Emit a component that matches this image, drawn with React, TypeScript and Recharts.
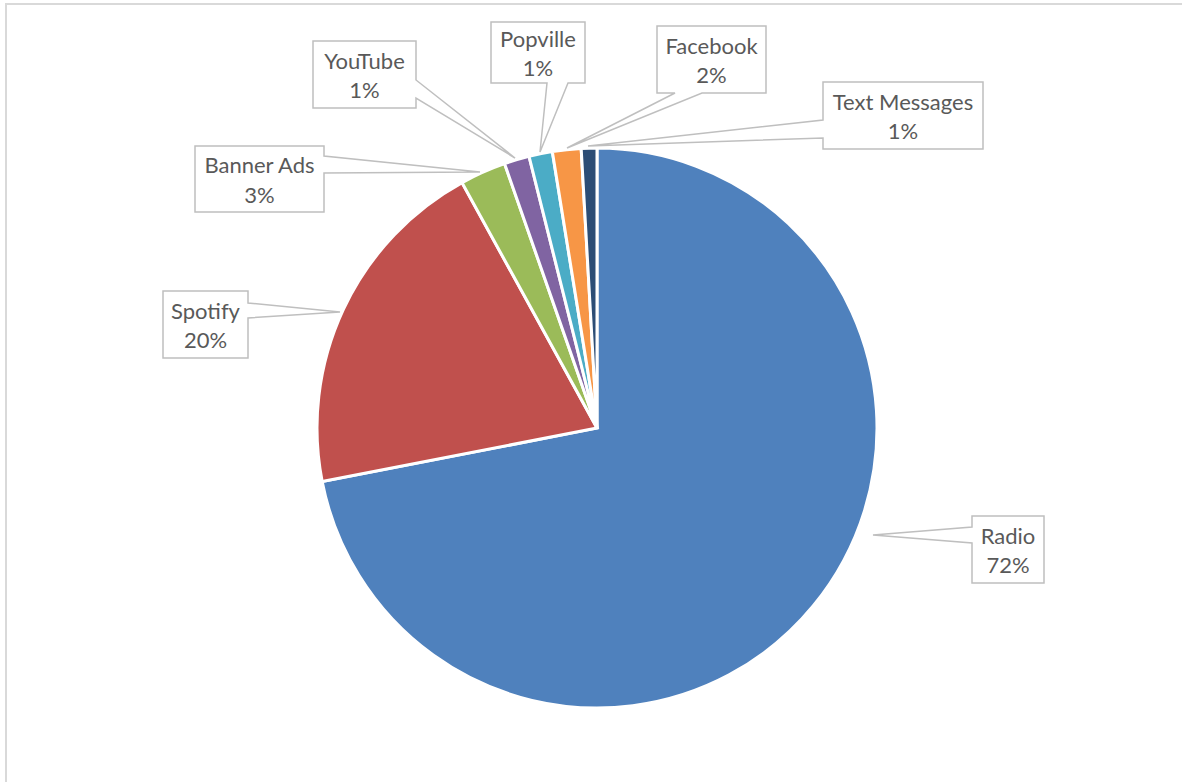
import React from 'react'
import { PieChart, Pie, Cell } from 'recharts'

const channels = ['Radio', 'Spotify', 'Banner Ads', 'YouTube', 'Popville', 'Facebook', 'Text Messages']
const shares = [71.9, 20.05, 2.65, 1.45, 1.35, 1.65, 0.9]
const colors = ['#4F81BD', '#C0504D', '#9BBB59', '#8064A2', '#4BACC6', '#F79646', '#2C4D75']

const data = channels.map((name, i) => ({ name, value: shares[i] }))

// callout boxes, offsets from pie centre: box, side the tail leaves from, tail attach points, tail tip
type Callout = { l: number; t: number; w: number; h: number; side: 'left' | 'right' | 'bottom'; a1: number; a2: number; tx: number; ty: number }
const callouts: Callout[] = [
  { l: 375, t: 88, w: 72, h: 67, side: 'left', a1: 99, a2: 115, tx: 276, ty: 107 },
  { l: -434, t: -137, w: 85, h: 67, side: 'right', a1: -125, a2: -110, tx: -257, ty: -116 },
  { l: -402, t: -282, w: 129, h: 66, side: 'right', a1: -272, a2: -255, tx: -117, ty: -256 },
  { l: -284, t: -387, w: 103, h: 67, side: 'right', a1: -348, a2: -330, tx: -82, ty: -270 },
  { l: -106, t: -406, w: 94, h: 61, side: 'bottom', a1: -50, a2: -29, tx: -57, ty: -276 },
  { l: 60, t: -402, w: 109, h: 67, side: 'bottom', a1: 78, a2: 105, tx: -30, ty: -280 },
  { l: 226, t: -346, w: 160, h: 67, side: 'left', a1: -308, a2: -290, tx: -9, ty: -282 },
]

const renderCallout = (props: any) => {
  const { cx, cy, index, percent, name } = props
  const c = callouts[index]
  if (!c) return null
  const l = cx + c.l
  const t = cy + c.t
  const r = l + c.w
  const b = t + c.h
  const tx = cx + c.tx
  const ty = cy + c.ty
  let d = ''
  if (c.side === 'left') {
    d = `M${l},${t} L${r},${t} L${r},${b} L${l},${b} L${l},${cy + c.a2} L${tx},${ty} L${l},${cy + c.a1} Z`
  } else if (c.side === 'right') {
    d = `M${l},${t} L${r},${t} L${r},${cy + c.a1} L${tx},${ty} L${r},${cy + c.a2} L${r},${b} L${l},${b} Z`
  } else {
    d = `M${l},${t} L${r},${t} L${r},${b} L${cx + c.a2},${b} L${tx},${ty} L${cx + c.a1},${b} L${l},${b} Z`
  }
  const mx = (l + r) / 2
  const my = (t + b) / 2
  return (
    <g key={`callout-${index}`}>
      <path d={d} fill="#fff" stroke="#BFBFBF" strokeWidth={1.5} />
      <text x={mx} y={my - 6} textAnchor="middle" fill="#595959" fontSize={22} fontFamily="Lato">
        {name}
      </text>
      <text x={mx} y={my + 23.5} textAnchor="middle" fill="#595959" fontSize={22} fontFamily="Lato">
        {`${Math.round(percent * 100)}%`}
      </text>
    </g>
  )
}

export default function App() {
  return (
    <div style={{ position: 'relative', width: 1182, height: 782, background: '#fff', overflow: 'hidden' }}>
      <style>{'body{margin:0;}'}</style>
      <div
        style={{
          position: 'absolute',
          left: 5,
          top: 3,
          width: 1300,
          height: 900,
          borderLeft: '2px solid #D9D9D9',
          borderTop: '2px solid #D9D9D9',
        }}
      />
      <div style={{ position: 'absolute', left: 0, top: 0 }}>
        <PieChart width={1182} height={782} margin={{ top: 0, right: 0, bottom: 0, left: 0 }}>
          <Pie
            data={data}
            dataKey="value"
            nameKey="name"
            cx={597}
            cy={428}
            outerRadius={280}
            startAngle={90}
            endAngle={-270}
            stroke="#fff"
            strokeWidth={3}
            label={renderCallout}
            labelLine={false}
            isAnimationActive={false}
          >
            {data.map((d, i) => (
              <Cell key={d.name} fill={colors[i]} />
            ))}
          </Pie>
        </PieChart>
      </div>
    </div>
  )
}
